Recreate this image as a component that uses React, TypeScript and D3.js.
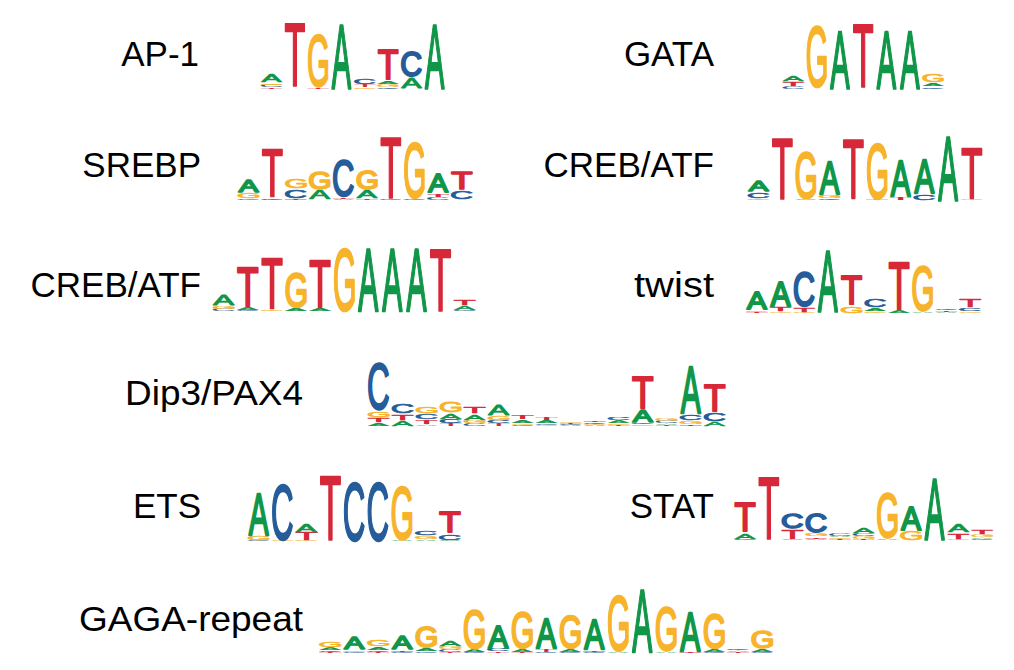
import React, { useMemo } from 'react';
import * as d3 from 'd3';

type Col = [string, number][];

const COLORS: Record<string, string> = { A: '#109648', C: '#255C99', G: '#F7B32B', T: '#D62839' };

const AP1: Col[] = [
  [['T', 0.04], ['C', 0.07], ['G', 0.09], ['A', 0.25]],
  [['C', 0.02], ['T', 1.9]],
  [['T', 0.04], ['G', 1.55]],
  [['A', 1.9]],
  [['G', 0.06], ['T', 0.08], ['C', 0.17]],
  [['C', 0.05], ['G', 0.08], ['A', 0.12], ['T', 0.95]],
  [['A', 0.35], ['C', 0.8]],
  [['A', 1.9]],
];

const GATA: Col[] = [
  [['C', 0.08], ['T', 0.15], ['A', 0.2]],
  [['A', 0.02], ['G', 1.85]],
  [['A', 1.72]],
  [['T', 1.9]],
  [['A', 1.72]],
  [['A', 1.7]],
  [['C', 0.06], ['A', 0.12], ['G', 0.25]],
];

const SREBP: Col[] = [
  [['C', 0.03], ['G', 0.17], ['A', 0.38]],
  [['C', 0.06], ['T', 1.45]],
  [['T', 0.05], ['C', 0.28], ['G', 0.3]],
  [['A', 0.3], ['G', 0.55]],
  [['A', 0.03], ['T', 0.04], ['C', 1.12]],
  [['T', 0.03], ['A', 0.25], ['G', 0.6]],
  [['C', 0.03], ['T', 1.83]],
  [['C', 0.03], ['G', 1.7]],
  [['C', 0.08], ['T', 0.12], ['A', 0.6]],
  [['C', 0.28], ['T', 0.56]],
];

const CREB_ATF_R: Col[] = [
  [['G', 0.06], ['C', 0.2], ['A', 0.36]],
  [['C', 0.02], ['T', 1.8]],
  [['A', 0.04], ['G', 1.42]],
  [['C', 0.05], ['G', 0.12], ['A', 0.98]],
  [['C', 0.02], ['T', 1.77]],
  [['T', 0.03], ['G', 1.7]],
  [['T', 0.1], ['A', 1.08]],
  [['C', 0.2], ['A', 1.03]],
  [['A', 1.9]],
  [['G', 0.04], ['T', 1.52]],
];

const CREB_ATF_L: Col[] = [
  [['C', 0.07], ['G', 0.1], ['A', 0.35]],
  [['C', 0.04], ['A', 0.08], ['T', 1.2]],
  [['G', 0.05], ['T', 1.52]],
  [['A', 0.1], ['G', 1.07]],
  [['A', 0.1], ['T', 1.42]],
  [['G', 1.86]],
  [['A', 1.86]],
  [['A', 1.86]],
  [['A', 1.88]],
  [['T', 1.86]],
  [['C', 0.04], ['A', 0.14], ['T', 0.2]],
];

const TWIST: Col[] = [
  [['T', 0.04], ['G', 0.06], ['A', 0.54]],
  [['G', 0.04], ['T', 0.15], ['A', 0.76]],
  [['G', 0.03], ['T', 0.14], ['C', 1.08]],
  [['T', 0.02], ['A', 1.82]],
  [['G', 0.24], ['T', 0.88]],
  [['G', 0.06], ['A', 0.1], ['C', 0.25]],
  [['A', 0.08], ['T', 1.42]],
  [['A', 0.06], ['G', 1.37]],
  [['A', 0.04], ['T', 0.04], ['C', 0.05]],
  [['G', 0.04], ['C', 0.12], ['T', 0.28]],
];

const DIP3_PAX4: Col[] = [
  [['A', 0.12], ['T', 0.15], ['G', 0.2], ['C', 1.42]],
  [['A', 0.18], ['T', 0.2], ['C', 0.3]],
  [['A', 0.06], ['T', 0.14], ['C', 0.17], ['G', 0.23]],
  [['T', 0.08], ['C', 0.14], ['A', 0.2], ['G', 0.35]],
  [['C', 0.08], ['G', 0.1], ['A', 0.2], ['T', 0.22]],
  [['T', 0.08], ['C', 0.1], ['G', 0.15], ['A', 0.35]],
  [['C', 0.04], ['G', 0.04], ['A', 0.12], ['T', 0.13]],
  [['G', 0.04], ['C', 0.04], ['A', 0.1], ['T', 0.11]],
  [['A', 0.03], ['C', 0.03], ['T', 0.04], ['G', 0.04]],
  [['A', 0.04], ['G', 0.04], ['C', 0.05], ['T', 0.05]],
  [['T', 0.04], ['G', 0.06], ['A', 0.08], ['C', 0.1]],
  [['G', 0.06], ['C', 0.06], ['A', 0.4], ['T', 0.97]],
  [['T', 0.04], ['A', 0.06], ['C', 0.07], ['G', 0.08]],
  [['T', 0.06], ['G', 0.12], ['C', 0.2], ['A', 1.42]],
  [['A', 0.15], ['C', 0.28], ['T', 0.83]],
];

const ETS: Col[] = [
  [['C', 0.03], ['G', 0.15], ['A', 1.27]],
  [['G', 0.03], ['C', 1.67]],
  [['G', 0.03], ['T', 0.25], ['A', 0.26]],
  [['T', 1.94]],
  [['C', 1.78]],
  [['C', 1.78]],
  [['A', 0.03], ['G', 1.6]],
  [['A', 0.05], ['G', 0.12], ['C', 0.16]],
  [['A', 0.04], ['C', 0.2], ['T', 0.68]],
];

const STAT: Col[] = [
  [['C', 0.03], ['A', 0.2], ['T', 0.88]],
  [['C', 0.02], ['T', 1.86]],
  [['A', 0.04], ['T', 0.3], ['C', 0.5]],
  [['A', 0.05], ['T', 0.06], ['G', 0.1], ['C', 0.58]],
  [['T', 0.04], ['G', 0.05], ['A', 0.05], ['C', 0.07]],
  [['T', 0.04], ['G', 0.08], ['C', 0.08], ['A', 0.17]],
  [['A', 0.05], ['G', 1.37]],
  [['G', 0.3], ['A', 0.74]],
  [['A', 1.82]],
  [['G', 0.04], ['T', 0.2], ['A', 0.26]],
  [['C', 0.04], ['A', 0.06], ['G', 0.07], ['T', 0.15]],
];

const GAGA: Col[] = [
  [['T', 0.04], ['C', 0.05], ['A', 0.08], ['G', 0.2]],
  [['C', 0.04], ['G', 0.06], ['A', 0.38]],
  [['T', 0.04], ['C', 0.05], ['A', 0.1], ['G', 0.23]],
  [['C', 0.04], ['T', 0.05], ['A', 0.45]],
  [['C', 0.04], ['A', 0.1], ['G', 0.66]],
  [['T', 0.04], ['C', 0.08], ['G', 0.08], ['A', 0.2]],
  [['C', 0.04], ['A', 0.08], ['G', 1.18]],
  [['T', 0.04], ['C', 0.1], ['A', 0.68]],
  [['T', 0.04], ['A', 0.08], ['G', 1.12]],
  [['C', 0.04], ['T', 0.08], ['A', 0.93]],
  [['C', 0.03], ['A', 0.08], ['G', 1.03]],
  [['C', 0.04], ['T', 0.05], ['A', 0.93]],
  [['A', 0.04], ['G', 1.67]],
  [['C', 0.02], ['A', 1.86]],
  [['A', 0.06], ['G', 1.32]],
  [['T', 0.05], ['A', 1.18]],
  [['C', 0.04], ['A', 0.08], ['G', 1.08]],
  [['T', 0.04], ['A', 0.04], ['C', 0.06]],
  [['C', 0.04], ['A', 0.08], ['G', 0.54]],
];

const LABELS = ['AP-1', 'GATA', 'SREBP', 'CREB/ATF', 'CREB/ATF', 'twist', 'Dip3/PAX4', 'ETS', 'STAT', 'GAGA-repeat'];
const MOTIFS = [AP1, GATA, SREBP, CREB_ATF_R, CREB_ATF_L, TWIST, DIP3_PAX4, ETS, STAT, GAGA];

// layout: label anchor (end), label baseline, label text length (optional), logo left, logo baseline, column width
const LAYOUT: { lx: number; ly: number; tl?: number; x0: number; base: number; cw: number }[] = [
  { lx: 199, ly: 66, x0: 260, base: 89, cw: 23.3 },
  { lx: 714, ly: 66, x0: 781.7, base: 89, cw: 23.3 },
  { lx: 201, ly: 177, x0: 236.7, base: 200, cw: 23.7 },
  { lx: 714, ly: 177, x0: 746.7, base: 200.7, cw: 23.7 },
  { lx: 201, ly: 297, x0: 211.7, base: 311.7, cw: 24.1 },
  { lx: 714, ly: 297, tl: 80, x0: 745, base: 313.3, cw: 23.7 },
  { lx: 303, ly: 405, tl: 178, x0: 366.7, base: 426.7, cw: 24 },
  { lx: 201, ly: 518, x0: 246.7, base: 541.7, cw: 23.9 },
  { lx: 714, ly: 518, x0: 733.3, base: 540.7, cw: 23.7 },
  { lx: 303, ly: 631, tl: 224, x0: 318.3, base: 653.3, cw: 24 },
];

const GLYPH_FONT = '"Liberation Sans", Arial, sans-serif';
const PX_PER_2BITS = 68;

type Metric = { l: number; r: number; a: number; d: number };

function measureGlyphs(): Record<string, Metric> {
  const out: Record<string, Metric> = {};
  const fallback: Record<string, Metric> = {
    A: { l: 0.1, r: 66.8, a: 71.6, d: 0 },
    C: { l: -4.9, r: 68.8, a: 73.6, d: 1.9 },
    G: { l: -4.8, r: 73, a: 73.6, d: 1.9 },
    T: { l: -2.3, r: 58.8, a: 71.6, d: 0 },
  };
  try {
    const ctx = document.createElement('canvas').getContext('2d');
    if (!ctx) return fallback;
    ctx.font = `100px ${GLYPH_FONT}`;
    for (const L of 'ACGT') {
      const m = ctx.measureText(L);
      out[L] = {
        l: m.actualBoundingBoxLeft,
        r: m.actualBoundingBoxRight,
        a: m.actualBoundingBoxAscent,
        d: m.actualBoundingBoxDescent,
      };
      if (!(out[L].a + out[L].d > 0)) return fallback;
    }
    return out;
  } catch (e) {
    return fallback;
  }
}

function Logo({ data, x0, base, cw, metrics }: { data: Col[]; x0: number; base: number; cw: number; metrics: Record<string, Metric> }) {
  const x = d3.scaleLinear().domain([0, data.length]).range([x0, x0 + cw * data.length]);
  const y = d3.scaleLinear().domain([0, 2]).range([base, base - PX_PER_2BITS]);
  const letterW = cw * 0.92;
  const glyphs: React.ReactNode[] = [];
  data.forEach((col, i) => {
    let acc = 0;
    col.forEach(([L, h], j) => {
      const yb = y(acc);
      const yt = y(acc + h);
      acc += h;
      const m = metrics[L];
      const hh = yb - yt;
      if (hh <= 0.05) return;
      const sw = hh > 12 ? 2 : hh > 3 ? 1.3 : 0.5;
      const gw = m.l + m.r;
      const gh = m.a + m.d;
      const inset = sw / 2;
      const sx = (letterW - sw) / gw;
      const sy = Math.max(0.1, hh - 2 * inset) / gh;
      const left = x(i) + (cw - letterW) / 2 + inset;
      const tx = left + m.l * sx;
      const ty = yb - inset - m.d * sy;
      glyphs.push(
        <text
          key={`${i}-${j}`}
          x={0}
          y={0}
          fontSize={100}
          fontFamily={GLYPH_FONT}
          fill={COLORS[L]}
          stroke={COLORS[L]}
          strokeWidth={sw}
          strokeLinejoin="round"
          vectorEffect="non-scaling-stroke"
          style={{ vectorEffect: 'non-scaling-stroke' } as React.CSSProperties}
          transform={`translate(${tx},${ty}) scale(${sx},${sy})`}
        >
          {L}
        </text>
      );
    });
  });
  return <g>{glyphs}</g>;
}

export default function App() {
  const metrics = useMemo(() => measureGlyphs(), []);
  return (
    <svg width={1014} height={670} style={{ position: 'absolute', left: 0, top: 0, background: '#fff' }}>
      <rect width={1014} height={670} fill="#fff" />
      {MOTIFS.map((data, k) => {
        const L = LAYOUT[k];
        return (
          <g key={k}>
            <text
              x={L.lx}
              y={L.ly}
              textAnchor="end"
              fontSize={35}
              fontFamily='"Liberation Sans", Arial, sans-serif'
              fill="#000"
              {...(L.tl ? { textLength: L.tl, lengthAdjust: 'spacingAndGlyphs' } : {})}
            >
              {LABELS[k]}
            </text>
            <Logo data={data} x0={L.x0} base={L.base} cw={L.cw} metrics={metrics} />
          </g>
        );
      })}
    </svg>
  );
}
